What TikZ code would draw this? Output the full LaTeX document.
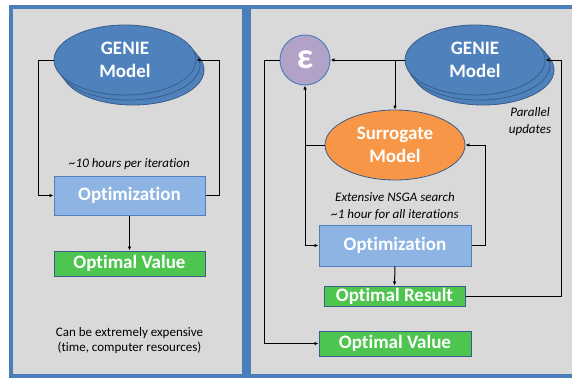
\documentclass[tikz,border=0pt]{standalone}
\usepackage{fontspec}
\setmainfont{Carlito}[Ligatures=NoCommon]
\usetikzlibrary{arrows.meta,shapes.geometric}
\definecolor{panelgray}{HTML}{D9D9D9}
\definecolor{panelblue}{HTML}{4A7EBB}
\definecolor{genieblue}{HTML}{4F81BD}
\definecolor{geniedark}{HTML}{385D8A}
\definecolor{optblue}{HTML}{8EB4E3}
\definecolor{greenbox}{HTML}{4DC54E}
\definecolor{orangesur}{HTML}{F79646}
\definecolor{purpleeps}{HTML}{B3A2C7}
\begin{document}
\begin{tikzpicture}[x=1pt,y=-1pt,
  panel/.style={draw=panelblue, line width=4.5pt, fill=panelgray},
  genie/.style={ellipse, draw=geniedark, line width=0.8pt, fill=genieblue,
    minimum width=142pt, minimum height=70pt, inner sep=0pt},
  boldwhite/.style={text=white, font=\bfseries\fontsize{19}{23.5}\selectfont, align=center},
  optbox/.style={rectangle, draw=genieblue, line width=1pt, fill=optblue, inner sep=0pt},
  greenbox/.style={rectangle, draw=geniedark, line width=1pt, fill=greenbox, inner sep=0pt},
  note/.style={font=\itshape\fontsize{13}{16.5}\selectfont, align=center, inner sep=0pt},
  arr/.style={draw=black, line width=1pt, -{Latex[length=4pt,width=3.5pt]}}
]
\useasboundingbox (0,0) rectangle (572,378);
\fill[white] (0,0) rectangle (572,378);
% panels
\draw[panel] (11,7) rectangle (244.5,376);
\draw[panel] (248.5,7) rectangle (580,376);

% ---------- left panel ----------
\node[genie] (genieLb2) at (133,70) {};
\node[genie] (genieLb1) at (129,65) {};
\node[genie, boldwhite] (genieL) at (125,60) {GENIE\\Model};
\node[optbox, boldwhite, minimum width=151pt, minimum height=39pt] (optL) at (129.5,195.5) {Optimization};
\node[greenbox, boldwhite, minimum width=151pt, minimum height=25pt] (valL) at (129.5,263.5) {Optimal Value};
\node[note] (noteL) at (129.5,164) {\textasciitilde10 hours per iteration};
\node[font=\fontsize{13}{15.5}\selectfont, align=center, inner sep=0pt] (costL) at (129.5,340.5)
  {Can be extremely expensive\\(time, computer resources)};

\draw[arr] (genieL.west) -- ++(-15,0) |- (optL.west);
\draw[arr] (optL.east) -- ++(14,0) |- (genieL.east);
\draw[arr] (optL.south) -- (valL.north);

% ---------- right panel ----------
\node[circle, draw=genieblue, line width=1pt, fill=purpleeps, minimum size=50pt, inner sep=0pt,
  text=white, font=\bfseries\fontsize{36}{36}\selectfont] (eps) at (305,60) {ε};
\node[genie] (genieRb2) at (483,70) {};
\node[genie] (genieRb1) at (479,65) {};
\node[genie, boldwhite, minimum width=140pt] (genieR) at (475,60) {GENIE\\Model};
\node[note] (par) at (530,121.5) {Parallel\\updates};
\node[ellipse, draw=geniedark, line width=0.8pt, fill=orangesur, minimum width=140pt, minimum height=70pt,
  inner sep=0pt, boldwhite] (sur) at (395,145) {Surrogate\\Model};
\node[note] (noteR) at (395,206) {Extensive NSGA search\\\textasciitilde1 hour for all iterations};
\node[optbox, boldwhite, minimum width=152pt, minimum height=41pt] (optR) at (395,245.5) {Optimization};
\node[greenbox, boldwhite, minimum width=141pt, minimum height=20pt] (resR) at (394.5,296) {Optimal Result};
\node[greenbox, boldwhite, minimum width=152pt, minimum height=25pt] (valR) at (395,343.5) {Optimal Value};

\draw[arr] (genieR.west) -- (eps.east);
\draw[arr] (sur.north |- genieR.west) -- (sur.north);
\draw[arr] (sur.west) -| (eps.south);
\draw[arr] (eps.south |- sur.west) |- (optR.west);
\draw[arr] (eps.west) -- ++(-15,0) |- (valR.west);
\draw[arr] (optR.east) -- ++(14,0) |- (sur.east);
\draw[arr] (optR.south) -- (resR.north);
\draw[arr] (resR.east) -- ++(95.5,0) |- (genieR.east);
\end{tikzpicture}
\end{document}
